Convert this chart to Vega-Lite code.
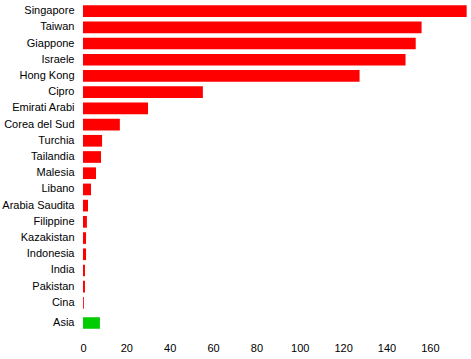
{
  "$schema": "https://vega.github.io/schema/vega-lite/v6.json",
  "padding": {"left": 1, "top": 3, "right": 0, "bottom": 0},
  "background": "white",
  "spacing": 4,
  "config": {
    "view": {"stroke": null},
    "font": "Liberation Sans",
    "axis": {"labelFont": "Liberation Sans", "labelFontSize": 11, "labelColor": "black", "domain": false, "ticks": false, "grid": false, "title": null}
  },
  "datasets": {
    "d": [
      {"paese": "Singapore", "valore": 177, "gruppo": "paese"},
      {"paese": "Taiwan", "valore": 156.2, "gruppo": "paese"},
      {"paese": "Giappone", "valore": 153.5, "gruppo": "paese"},
      {"paese": "Israele", "valore": 148.8, "gruppo": "paese"},
      {"paese": "Hong Kong", "valore": 127.6, "gruppo": "paese"},
      {"paese": "Cipro", "valore": 55.3, "gruppo": "paese"},
      {"paese": "Emirati Arabi", "valore": 30, "gruppo": "paese"},
      {"paese": "Corea del Sud", "valore": 17, "gruppo": "paese"},
      {"paese": "Turchia", "valore": 8.8, "gruppo": "paese"},
      {"paese": "Tailandia", "valore": 8.3, "gruppo": "paese"},
      {"paese": "Malesia", "valore": 6, "gruppo": "paese"},
      {"paese": "Libano", "valore": 3.7, "gruppo": "paese"},
      {"paese": "Arabia Saudita", "valore": 2.3, "gruppo": "paese"},
      {"paese": "Filippine", "valore": 1.8, "gruppo": "paese"},
      {"paese": "Kazakistan", "valore": 1.4, "gruppo": "paese"},
      {"paese": "Indonesia", "valore": 1.4, "gruppo": "paese"},
      {"paese": "India", "valore": 0.9, "gruppo": "paese"},
      {"paese": "Pakistan", "valore": 0.9, "gruppo": "paese"},
      {"paese": "Cina", "valore": 0.4, "gruppo": "paese"},
      {"paese": "Asia", "valore": 7.8, "gruppo": "area"}
    ]
  },
  "vconcat": [
    {
      "width": 388,
      "height": 308,
      "data": {"name": "d"},
      "transform": [{"filter": "datum.gruppo === 'paese'"}],
      "mark": {"type": "bar", "color": "#FF0000"},
      "encoding": {
        "y": {"field": "paese", "type": "nominal", "sort": null, "scale": {"paddingInner": 0.28, "paddingOuter": 0.14}, "axis": {"labelPadding": 9}},
        "x": {"field": "valore", "type": "quantitative", "scale": {"domain": [0, 179], "nice": false}, "axis": null}
      }
    },
    {
      "width": 388,
      "height": 16,
      "data": {"name": "d"},
      "transform": [{"filter": "datum.gruppo === 'area'"}],
      "mark": {"type": "bar", "color": "#00CC00"},
      "encoding": {
        "y": {"field": "paese", "type": "nominal", "scale": {"paddingInner": 0.28, "paddingOuter": 0.14}, "axis": {"labelPadding": 9}},
        "x": {"field": "valore", "type": "quantitative", "scale": {"domain": [0, 179], "nice": false}, "axis": {"values": [0, 20, 40, 60, 80, 100, 120, 140, 160], "labelPadding": 11, "labelFlush": false}}
      }
    }
  ]
}
